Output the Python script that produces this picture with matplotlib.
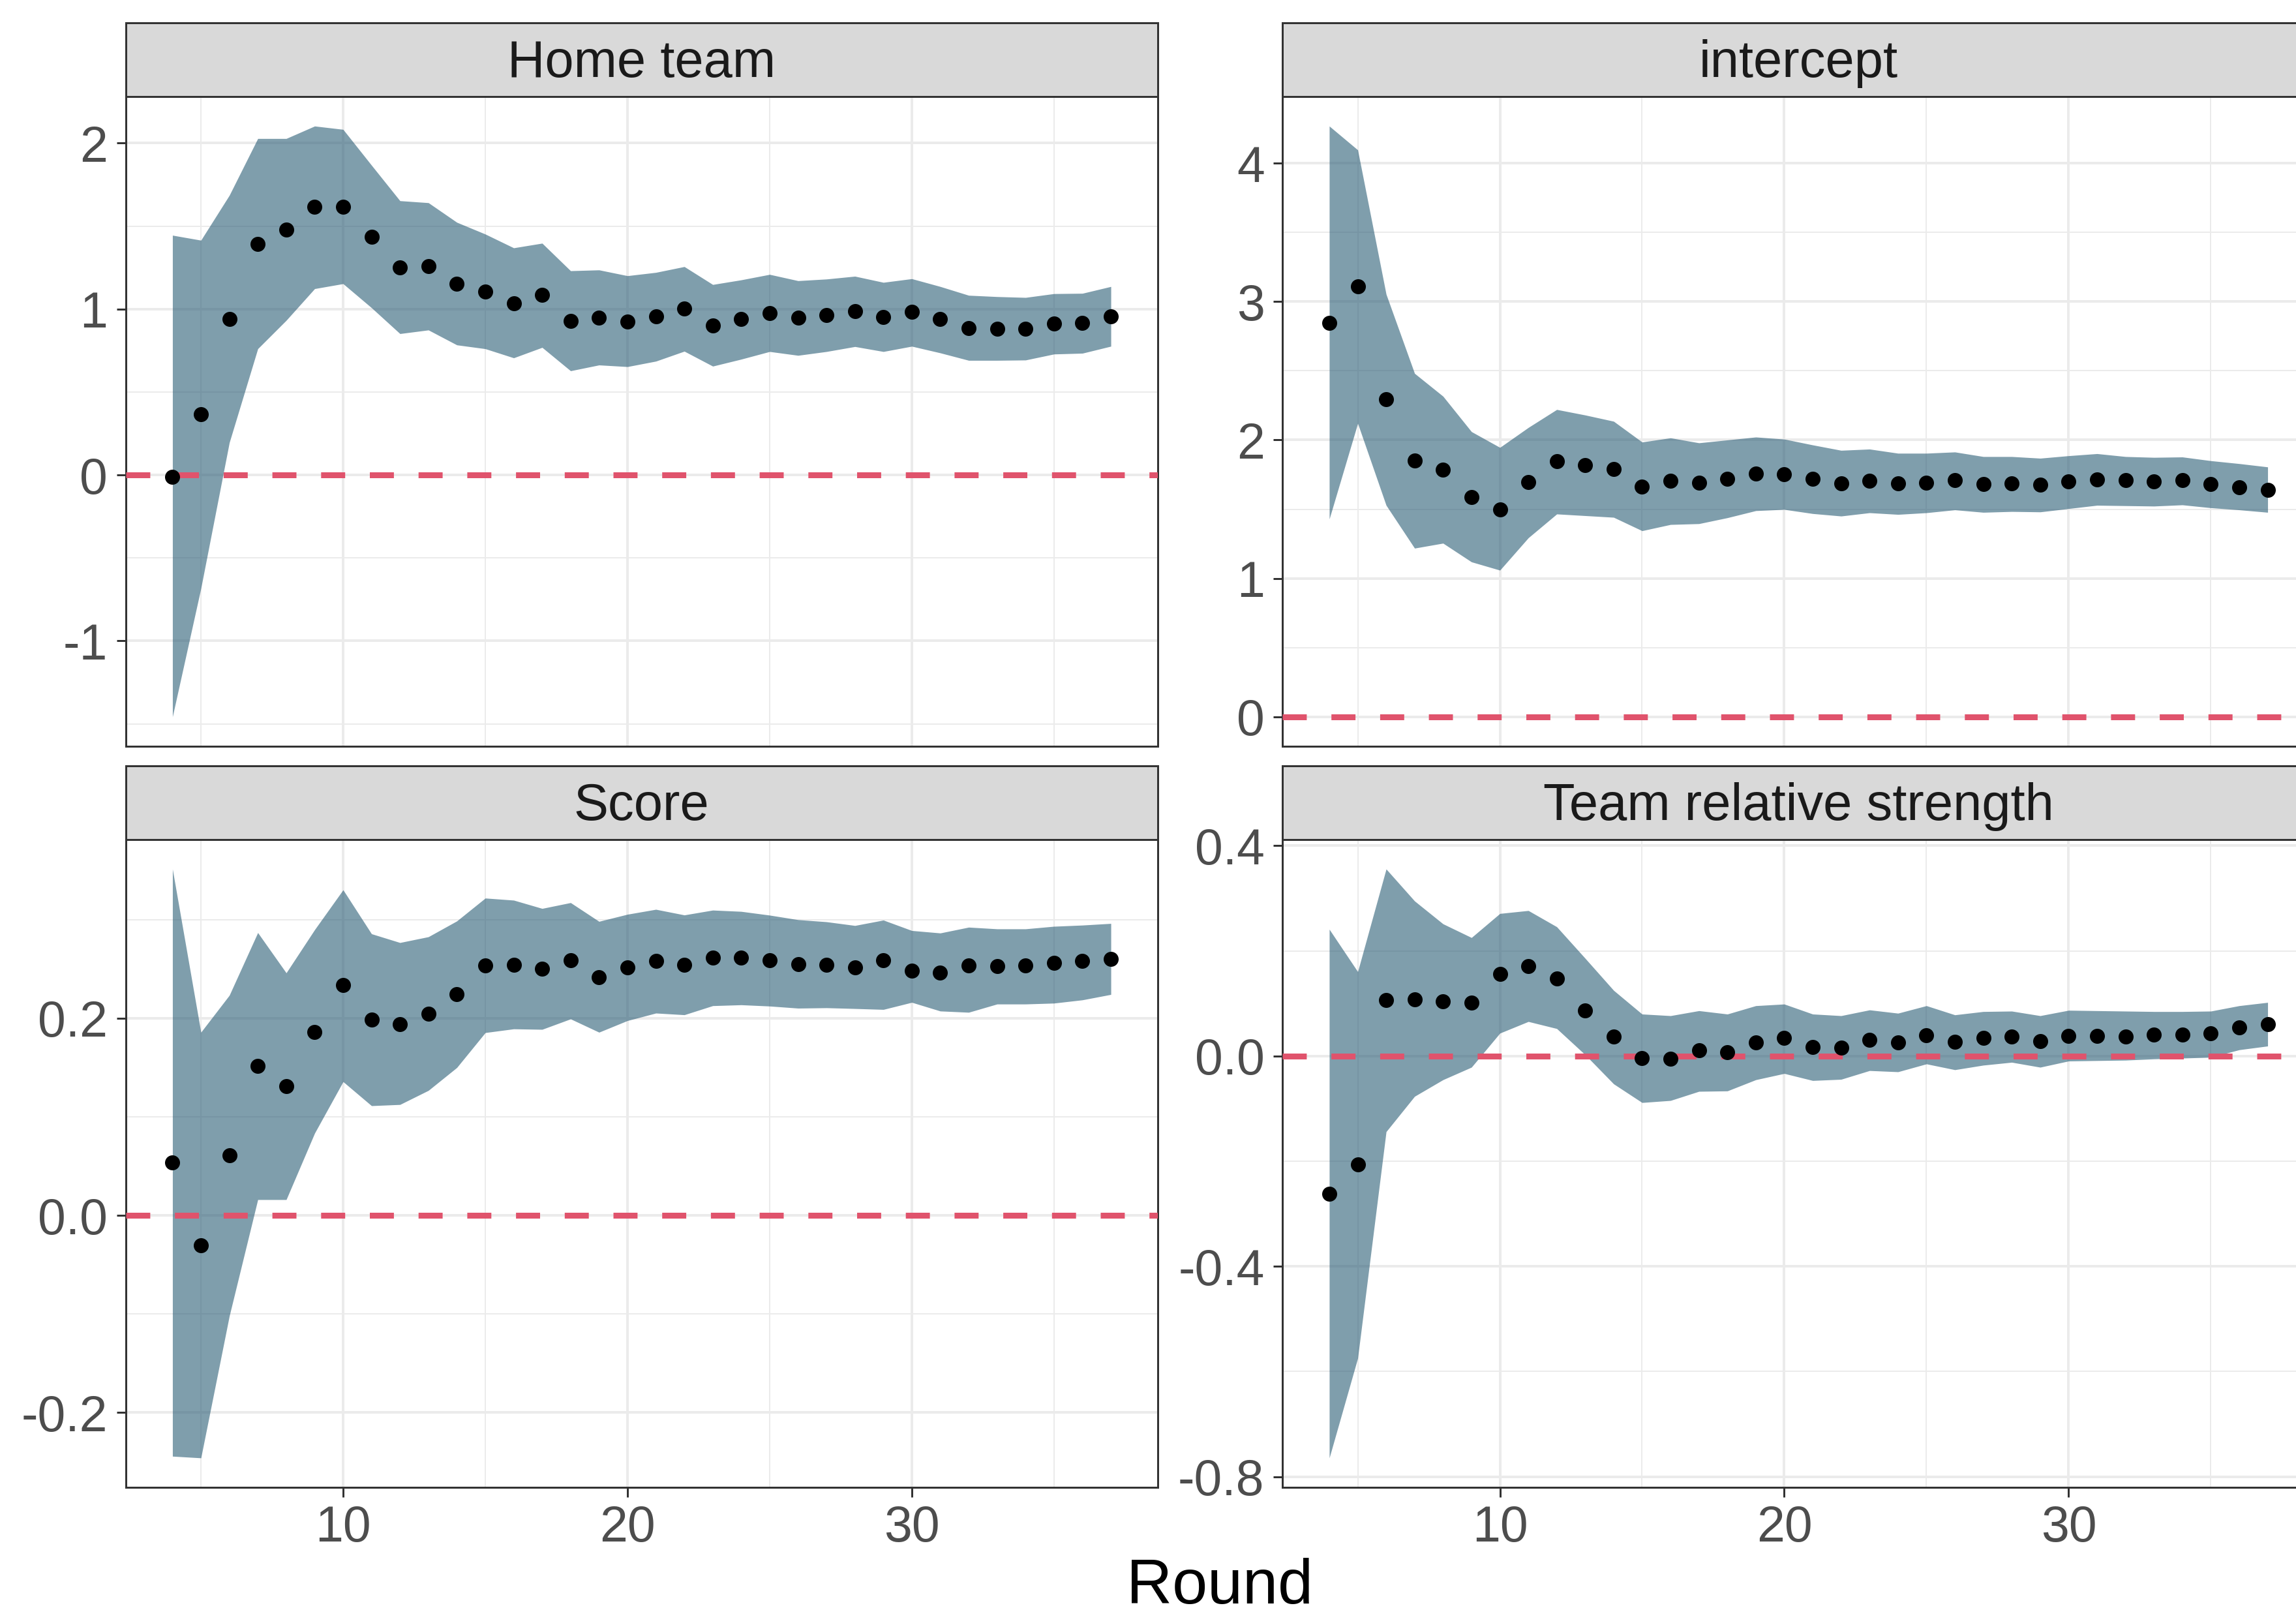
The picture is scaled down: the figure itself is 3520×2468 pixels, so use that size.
import matplotlib
matplotlib.use("Agg")
import matplotlib.pyplot as plt
from matplotlib.ticker import FixedLocator
import numpy as np

plt.rcParams['font.family'] = ['Liberation Sans', 'DejaVu Sans']
plt.rcParams['axes.unicode_minus'] = False

rounds = list(range(4, 38))

panel_titles = ["Home team", "intercept", "Score", "Team relative strength"]

home_est = [-0.01, 0.367, 0.942, 1.394, 1.477, 1.616, 1.618, 1.437, 1.251, 1.259, 1.153, 1.106,
            1.035, 1.085, 0.927, 0.950, 0.925, 0.955, 1.005, 0.902, 0.940, 0.977, 0.947, 0.962,
            0.987, 0.952, 0.982, 0.940, 0.887, 0.882, 0.882, 0.912, 0.917, 0.955]
home_hi = [1.445, 1.415, 1.686, 2.028, 2.028, 2.103, 2.083, 1.867, 1.653, 1.641, 1.523, 1.452,
           1.369, 1.397, 1.231, 1.236, 1.201, 1.221, 1.256, 1.148, 1.176, 1.209, 1.171, 1.181,
           1.198, 1.161, 1.183, 1.136, 1.083, 1.075, 1.070, 1.093, 1.095, 1.136]
home_lo = [-1.457, -0.683, 0.196, 0.761, 0.932, 1.123, 1.153, 1.008, 0.852, 0.874, 0.784, 0.761,
           0.706, 0.769, 0.628, 0.663, 0.653, 0.686, 0.746, 0.656, 0.698, 0.744, 0.721, 0.744,
           0.774, 0.744, 0.776, 0.736, 0.691, 0.691, 0.693, 0.729, 0.734, 0.776]

int_est = [2.848, 3.110, 2.292, 1.853, 1.783, 1.585, 1.498, 1.696, 1.847, 1.820, 1.789, 1.663,
           1.705, 1.690, 1.717, 1.756, 1.753, 1.717, 1.687, 1.705, 1.684, 1.690, 1.708, 1.681,
           1.684, 1.675, 1.699, 1.714, 1.708, 1.699, 1.708, 1.681, 1.660, 1.639]
int_hi = [4.268, 4.096, 3.053, 2.481, 2.316, 2.060, 1.946, 2.090, 2.220, 2.180, 2.135, 1.985,
          2.015, 1.979, 2.000, 2.021, 2.006, 1.964, 1.925, 1.934, 1.904, 1.904, 1.913, 1.880,
          1.880, 1.868, 1.886, 1.901, 1.880, 1.874, 1.877, 1.850, 1.829, 1.805]
int_lo = [1.429, 2.120, 1.528, 1.218, 1.254, 1.119, 1.059, 1.293, 1.465, 1.453, 1.441, 1.344,
          1.389, 1.395, 1.438, 1.489, 1.498, 1.468, 1.450, 1.474, 1.462, 1.474, 1.495, 1.477,
          1.483, 1.480, 1.504, 1.528, 1.525, 1.522, 1.531, 1.510, 1.495, 1.477]

score_est = [0.0535, -0.0303, 0.0611, 0.1516, 0.1309, 0.1857, 0.2333, 0.1987, 0.1941, 0.2042,
             0.2244, 0.2535, 0.2539, 0.2501, 0.2585, 0.2417, 0.2514, 0.2579, 0.2539, 0.2615,
             0.2611, 0.2585, 0.2547, 0.2539, 0.2514, 0.2585, 0.2484, 0.2463, 0.2535, 0.2526,
             0.2531, 0.2560, 0.2581, 0.2602]
score_hi = [0.3512, 0.1857, 0.2232, 0.2867, 0.2459, 0.2897, 0.3301, 0.2855, 0.2766, 0.2825,
            0.2985, 0.3217, 0.3196, 0.3112, 0.3171, 0.2981, 0.3053, 0.3103, 0.3046, 0.3095,
            0.3082, 0.3044, 0.2998, 0.2977, 0.2939, 0.2994, 0.2888, 0.2863, 0.2922, 0.2905,
            0.2905, 0.2931, 0.2943, 0.2960]
score_lo = [-0.2442, -0.2459, -0.1019, 0.0160, 0.0160, 0.0834, 0.1356, 0.1112, 0.1124, 0.1267,
            0.1499, 0.1853, 0.1891, 0.1886, 0.1992, 0.1857, 0.1975, 0.2051, 0.2034, 0.2126,
            0.2135, 0.2122, 0.2101, 0.2105, 0.2097, 0.2088, 0.2160, 0.2072, 0.2059, 0.2143,
            0.2143, 0.2152, 0.2185, 0.2240]

trs_est = [-0.2625, -0.2063, 0.1059, 0.1083, 0.1036, 0.1020, 0.1565, 0.1715, 0.1478, 0.0870,
           0.0372, -0.0040, -0.0047, 0.0111, 0.0071, 0.0253, 0.0340, 0.0174, 0.0158, 0.0308,
           0.0261, 0.0395, 0.0269, 0.0348, 0.0372, 0.0285, 0.0387, 0.0379, 0.0364, 0.0403,
           0.0403, 0.0427, 0.0538, 0.0609]
trs_hi = [0.2411, 0.1605, 0.3557, 0.2949, 0.2514, 0.2253, 0.2711, 0.2767, 0.2458, 0.1858,
          0.1249, 0.0798, 0.0767, 0.0862, 0.0798, 0.0957, 0.0988, 0.0798, 0.0767, 0.0877,
          0.0814, 0.0957, 0.0783, 0.0846, 0.0854, 0.0767, 0.0870, 0.0862, 0.0854, 0.0846,
          0.0846, 0.0854, 0.0957, 0.1020]
trs_lo = [-0.7644, -0.5747, -0.1439, -0.0767, -0.0451, -0.0213, 0.0435, 0.0656, 0.0522, 0.0024,
          -0.0530, -0.0885, -0.0846, -0.0672, -0.0664, -0.0451, -0.0332, -0.0466, -0.0443, -0.0277,
          -0.0300, -0.0150, -0.0261, -0.0174, -0.0119, -0.0213, -0.0095, -0.0087, -0.0079, -0.0055,
          -0.0040, -0.0024, 0.0119, 0.0190]

panels = [
    (home_est, home_lo, home_hi, [-1, 0, 1, 2], 0.5, lambda v: "%d" % v),
    (int_est, int_lo, int_hi, [0, 1, 2, 3, 4], 0.5, lambda v: "%d" % v),
    (score_est, score_lo, score_hi, [-0.2, 0.0, 0.2], 0.1, lambda v: "%.1f" % v),
    (trs_est, trs_lo, trs_hi, [-0.8, -0.4, 0.0, 0.4], 0.2, lambda v: "%.1f" % v),
]
x_major = [10, 20, 30]
x_minor = [5, 15, 25, 35]

W, H = 3520, 2468
fig = plt.figure(figsize=(W / 100, H / 100), dpi=100)

col_x = [192.5, 1966.0]
col_w = 1582.5
rows = [(35.0, 148.0, 1144.0), (1174.0, 1287.0, 2280.0)]  # strip top, panel top, panel bottom

grid_col = "#EBEBEB"
border_col = "#333333"
band_col = "#2A5D76"
ref_col = "#E0536C"
px = 0.72  # points per pixel at dpi 100

for i, (est, lo, hi, yt, minor_step, fmt) in enumerate(panels):
    r, c = divmod(i, 2)
    st, pt, pb = rows[r]
    x0 = col_x[c]
    ax = fig.add_axes([x0 / W, 1 - pb / H, col_w / W, (pb - pt) / H])
    sax = fig.add_axes([x0 / W, 1 - pt / H, col_w / W, (pt - st) / H])

    x = np.array(rounds)
    ax.fill_between(x, lo, hi, color=band_col, alpha=0.6, linewidth=0, zorder=2)
    ax.axhline(0, color=ref_col, linewidth=9 * px, linestyle=(0, (4.1, 4.2)), zorder=3)
    ax.plot(x, est, linestyle="none", marker="o", markersize=23 * px, color="black",
            markeredgewidth=0, zorder=4)

    xr = (min(rounds), max(rounds))
    xpad = 0.05 * (xr[1] - xr[0])
    ax.set_xlim(xr[0] - xpad, xr[1] + xpad)
    ymin = min(min(lo), 0.0)
    ymax = max(max(hi), 0.0)
    ypad = 0.05 * (ymax - ymin)
    ax.set_ylim(ymin - ypad, ymax + ypad)

    ax.xaxis.set_major_locator(FixedLocator(x_major))
    ax.xaxis.set_minor_locator(FixedLocator(x_minor))
    ax.yaxis.set_major_locator(FixedLocator(yt))
    ymins = []
    v = yt[0] - minor_step
    while v <= yt[-1] + minor_step + 1e-9:
        if all(abs(v - t) > 1e-9 for t in yt):
            ymins.append(v)
        v += minor_step
    ax.yaxis.set_minor_locator(FixedLocator(ymins))
    ax.set_yticklabels([fmt(t) for t in yt])

    ax.set_axisbelow(True)
    ax.grid(which="major", color=grid_col, linewidth=4 * px)
    ax.grid(which="minor", color=grid_col, linewidth=2 * px)
    ax.tick_params(which="minor", length=0)
    ax.tick_params(which="major", length=14.5 * px, width=3 * px, color=border_col,
                   labelsize=77 * px, labelcolor="#4D4D4D", pad=13 * px)
    if r == 0:
        ax.tick_params(axis="x", which="major", bottom=False, labelbottom=False)
    else:
        ax.set_xticklabels([str(t) for t in x_major])
        ax.tick_params(axis="x", pad=11 * px)
    for s in ax.spines.values():
        s.set_color(border_col)
        s.set_linewidth(3 * px)

    sax.set_facecolor("#D9D9D9")
    sax.set_xticks([])
    sax.set_yticks([])
    for s in sax.spines.values():
        s.set_color(border_col)
        s.set_linewidth(3 * px)
    sax.text(0.5, 0.45, panel_titles[i], transform=sax.transAxes, ha="center", va="center",
             fontsize=79.5 * px, color="#1A1A1A")

fig.text(1870 / W, 10 / H, "Round", ha="center", va="baseline", fontsize=97 * px, color="black")

fig.savefig("out.png", dpi=100, facecolor="white")
